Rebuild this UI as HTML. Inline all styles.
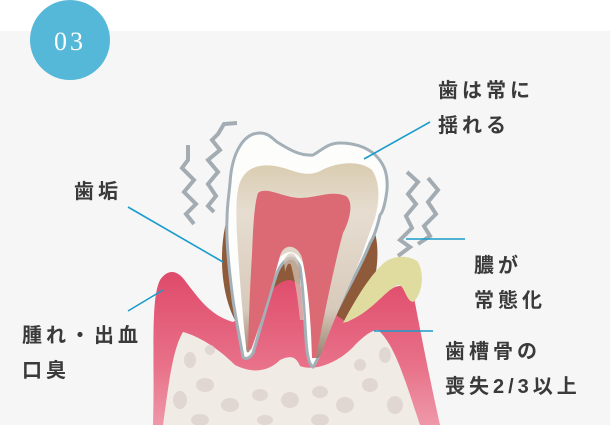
<!DOCTYPE html>
<html><head><meta charset="utf-8"><style>
html,body{margin:0;padding:0;width:610px;height:425px;overflow:hidden;background:#fff}
svg{display:block}
text.l{font-family:"Liberation Sans","Noto Sans CJK JP",sans-serif;font-weight:bold;font-size:20px;fill:#3a3a3a;letter-spacing:4px}
</style></head><body>
<svg width="610" height="425" viewBox="0 0 610 425" xmlns="http://www.w3.org/2000/svg">
<defs>
<linearGradient id="gum" x1="0" y1="0" x2="0" y2="1"><stop offset="0" stop-color="#df4a6a"/><stop offset="0.6" stop-color="#e87088"/><stop offset="1" stop-color="#ee98a8"/></linearGradient>
<linearGradient id="dent" x1="0" y1="0" x2="0" y2="1"><stop offset="0" stop-color="#d9ccb0"/><stop offset="0.25" stop-color="#e6ddd0"/><stop offset="0.75" stop-color="#d8cabb"/><stop offset="1" stop-color="#9a8070"/></linearGradient>
</defs>
<rect x="0" y="31" width="610" height="394" fill="#f6f6f6"/>
<circle cx="70" cy="40" r="40" fill="#55b8d8"/>
<text x="70" y="50" text-anchor="middle" font-family="Liberation Serif,serif" font-size="26" fill="#fff" letter-spacing="3">03</text>

<g fill="none" stroke="#a2acb2" stroke-width="4">
<path d="M188,145 L188,160 L182,168 L194,180 L184,192 L196,204 L186,214 L194,224"/>
<path d="M237,123 L224,124 L218,134 L212,140 L220,150 L208,160 L218,172 L208,184 L216,196 L208,206 L214,212"/>
<path d="M407,172 L418,182 L408,194 L416,204 L406,216 L412,228 L400,240 L410,247 L398,256"/>
<path d="M428,178 L438,190 L428,202 L436,214 L424,226 L430,236 L418,244"/>
</g>

<!-- calculus (behind) -->
<path d="M232,205 C218,235 218,290 236,322 L300,322 L300,255 L246,205 Z" fill="#8e5a3a"/>
<path d="M372,225 C382,245 378,285 362,312 L345,322 L300,322 L355,225 Z" fill="#8e5a3a"/>

<!-- gum -->
<path d="M153,425 C155,360 150,300 160,280 C168,268 178,270 186,282 C200,300 210,315 233,322 L260,305 C270,290 280,280 290,280 C300,282 310,300 347,322 C370,310 380,295 393,288 C400,284 410,286 413,292 C420,330 430,380 440,425 Z" fill="url(#gum)"/>
<!-- bone -->
<path d="M163,425 C168,390 172,350 183,332 C195,335 215,345 235,365 C255,375 270,370 280,360 C290,355 296,356 300,366 C315,372 340,362 355,345 C365,335 372,330 378,330 C395,345 405,380 420,425 Z" fill="#f1ebe5"/>
<g fill="#e0d6d2">
<ellipse cx="190" cy="360" rx="6" ry="8"/><ellipse cx="205" cy="385" rx="9" ry="7"/><ellipse cx="180" cy="400" rx="7" ry="9"/><ellipse cx="230" cy="405" rx="9" ry="7"/><ellipse cx="260" cy="395" rx="8" ry="6"/><ellipse cx="290" cy="400" rx="9" ry="8"/><ellipse cx="320" cy="392" rx="8" ry="6"/><ellipse cx="345" cy="405" rx="9" ry="8"/><ellipse cx="370" cy="385" rx="8" ry="7"/><ellipse cx="385" cy="355" rx="6" ry="8"/><ellipse cx="395" cy="405" rx="8" ry="9"/><ellipse cx="200" cy="420" rx="9" ry="6"/><ellipse cx="265" cy="420" rx="8" ry="5"/><ellipse cx="320" cy="420" rx="9" ry="6"/><ellipse cx="360" cy="365" rx="6" ry="6"/><ellipse cx="210" cy="350" rx="5" ry="5"/>
</g>
<!-- pus -->
<path d="M343,323 C355,300 370,275 385,262 C395,255 410,255 418,262 C425,275 422,295 413,302 C405,300 405,285 398,285 C385,290 370,315 343,323 Z" fill="#e0dca0"/>

<!-- tooth outline -->
<path d="M230,183 C232,150 245,133 260,133 C268,133 272,138 277,142 C290,150 300,156 313,155 C322,150 328,143 340,143 C355,143 365,147 373,153 C385,163 388,175 387,190 C385,205 383,212 380,215 C377,228 374,237 370,243 C360,270 340,300 327,333 C322,348 318,360 313,367 C309,365 307,355 306,340 C304,310 303,285 300,267 C297,260 294,258 290,258 C284,260 280,266 277,273 C268,300 260,330 253,353 C250,358 246,360 243,357 C240,340 236,320 233,300 C229,270 226,240 227,220 C227,205 229,195 230,183 Z" fill="#fdfdfc" stroke="#a3b0b8" stroke-width="3"/>
<!-- dentin -->
<path d="M238,190 C242,166 262,160 290,170 C302,174 312,176 322,170 C338,162 360,160 372,170 C380,182 380,200 375,218 C370,232 365,245 362,255 C350,285 334,318 322,352 C319,360 316,360 314,354 C312,320 310,290 306,270 C302,258 296,252 290,252 C282,253 276,260 272,270 C264,295 258,325 250,350 C248,355 246,352 246,346 C242,310 239,270 237,235 C236,215 236,200 238,190 Z" fill="url(#dent)"/>
<!-- pulp -->
<path d="M258,193 C266,186 284,198 300,198 C316,198 332,190 346,196 C354,202 350,220 343,233 C335,262 325,310 316,358 L312,358 C311,320 308,285 302,258 C298,245 284,242 280,256 C272,285 262,320 251,350 L248,348 C249,315 250,285 252,255 C253,230 254,205 258,193 Z" fill="#dc6a74"/>
<path d="M284,260 C288,250 296,252 298,262 C300,280 303,300 304,320 L300,320 C298,300 295,280 291,265 C289,262 287,264 285,272 Z" fill="#d6c9ba" opacity="0.7"/>

<g stroke="#1a9ccc" stroke-width="1.6">
<line x1="430" y1="122" x2="364" y2="159"/>
<line x1="128" y1="207" x2="223" y2="262"/>
<line x1="406" y1="239" x2="465" y2="239"/>
<line x1="128" y1="311" x2="163" y2="290"/>
<line x1="374" y1="331" x2="433" y2="331"/>
</g>

<text class="l" x="438" y="97">歯は常に</text>
<text class="l" x="438" y="132">揺れる</text>
<text class="l" x="74" y="198">歯垢</text>
<text class="l" x="474" y="272">膿が</text>
<text class="l" x="474" y="307">常態化</text>
<text class="l" x="22" y="342">腫れ・出血</text>
<text class="l" x="22" y="377">口臭</text>
<text class="l" x="445" y="358">歯槽骨の</text>
<text class="l" x="445" y="393">喪失2/3以上</text>
</svg>
</body></html>
